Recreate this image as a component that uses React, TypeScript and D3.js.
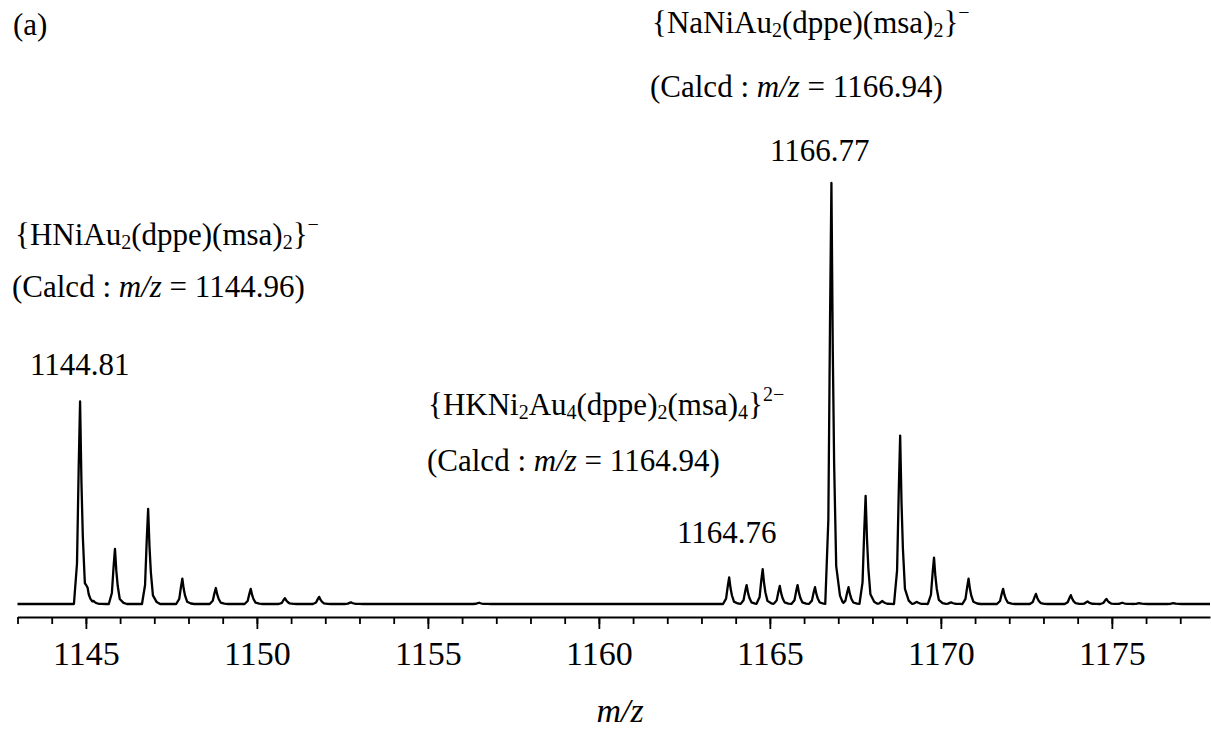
import { useEffect, useRef } from "react";
import * as d3 from "d3";

const W = 1211;
const H = 733;

// Peak list (m/z, relative intensity %)
const PEAK_MZ = [
  1144.83, 1145.05, 1145.22, 1145.85, 1146.82, 1147.82, 1148.8, 1149.82,
  1150.82, 1151.82, 1152.75, 1156.5, 1163.81, 1164.32, 1164.79, 1165.29,
  1165.81, 1166.32, 1166.8, 1167.3, 1167.8, 1168.29, 1168.81, 1169.3,
  1169.8, 1170.3, 1170.81, 1171.82, 1172.78, 1173.8, 1174.29, 1174.84,
  1175.31, 1175.8, 1176.8,
];
const PEAK_INT = [
  48.1, 2.0, 0.6, 13.1, 22.6, 6.0, 3.8, 3.6, 1.4, 1.7, 0.4, 0.3, 6.3, 4.5,
  8.3, 4.3, 4.5, 4.0, 100, 4.0, 25.7, 0.7, 40.0, 0.5, 11.0, 0.4, 6.0, 3.6,
  2.4, 2.1, 0.6, 1.2, 0.3, 0.2, 0.2,
];

// Instrument line shape (offset in m/z -> fraction of peak height)
const SHAPE_DX = [-0.18, -0.09, -0.04, 0, 0.04, 0.08, 0.14, 0.25, 0.35];
const SHAPE_F = [0, 0.2, 0.68, 1, 0.6, 0.33, 0.09, 0.02, 0];

const X_DOMAIN: [number, number] = [1143, 1177.87];
const MAJOR_TICKS = [1145, 1150, 1155, 1160, 1165, 1170, 1175];
const MINOR_TICKS = d3.range(1143, 1178, 1);

const SERIF = "Liberation Serif, Times New Roman, serif";
const FS = 31;

type Seg = { t: string; sub?: boolean; sup?: boolean; it?: boolean };

const LABELS: { x: number; y: number; segs: Seg[] }[] = [
  { x: 13, y: 35, segs: [{ t: "(a)" }] },
  {
    x: 15,
    y: 245,
    segs: [
      { t: "{HNiAu" },
      { t: "2", sub: true },
      { t: "(dppe)(msa)" },
      { t: "2", sub: true },
      { t: "}" },
      { t: "\u2212", sup: true },
    ],
  },
  {
    x: 12,
    y: 297,
    segs: [{ t: "(Calcd : " }, { t: "m/z", it: true }, { t: " = 1144.96)" }],
  },
  { x: 30, y: 375, segs: [{ t: "1144.81" }] },
  {
    x: 428,
    y: 415,
    segs: [
      { t: "{HKNi" },
      { t: "2", sub: true },
      { t: "Au" },
      { t: "4", sub: true },
      { t: "(dppe)" },
      { t: "2", sub: true },
      { t: "(msa)" },
      { t: "4", sub: true },
      { t: "}" },
      { t: "2\u2212", sup: true },
    ],
  },
  {
    x: 427,
    y: 471,
    segs: [{ t: "(Calcd : " }, { t: "m/z", it: true }, { t: " = 1164.94)" }],
  },
  { x: 677, y: 543, segs: [{ t: "1164.76" }] },
  {
    x: 652,
    y: 33,
    segs: [
      { t: "{NaNiAu" },
      { t: "2", sub: true },
      { t: "(dppe)(msa)" },
      { t: "2", sub: true },
      { t: "}" },
      { t: "\u2212", sup: true },
    ],
  },
  {
    x: 650,
    y: 97,
    segs: [{ t: "(Calcd : " }, { t: "m/z", it: true }, { t: " = 1166.94)" }],
  },
  { x: 770, y: 161, segs: [{ t: "1166.77" }] },
];

export default function App() {
  const ref = useRef<SVGSVGElement | null>(null);

  useEffect(() => {
    if (!ref.current) return;
    const svg = d3.select(ref.current);
    svg.selectAll("*").remove();

    const x = d3.scaleLinear().domain(X_DOMAIN).range([17.5, 1210]);
    const y = d3.scaleLinear().domain([0, 100]).range([604, 183]);
    const axisY = 617;

    // profile = sum of line shapes at each peak
    const shape = d3.scaleLinear().domain(SHAPE_DX).range(SHAPE_F).clamp(true);
    const xs: number[] = [X_DOMAIN[0], X_DOMAIN[1]];
    PEAK_MZ.forEach((c) => SHAPE_DX.forEach((dx) => xs.push(c + dx)));
    xs.sort((a, b) => a - b);
    const profile: [number, number][] = xs
      .filter((v) => v >= X_DOMAIN[0] && v <= X_DOMAIN[1])
      .map((m) => [
        m,
        d3.sum(PEAK_MZ, (c, i) =>
          Math.abs(m - c) < 0.4 ? PEAK_INT[i] * shape(m - c) : 0
        ),
      ]);

    const line = d3
      .line<[number, number]>()
      .x((d) => x(d[0]))
      .y((d) => y(d[1]));

    svg
      .append("path")
      .attr("d", line(profile) ?? "")
      .attr("fill", "none")
      .attr("stroke", "#000")
      .attr("stroke-width", 2.3)
      .attr("stroke-linejoin", "round");

    // minor ticks
    const minor = svg
      .append("g")
      .attr("transform", `translate(0,${axisY})`)
      .call(
        d3
          .axisBottom(x)
          .tickValues(MINOR_TICKS)
          .tickSize(7)
          .tickSizeOuter(0)
          .tickFormat(() => "")
      );
    minor.select(".domain").attr("stroke-width", 2.2);
    minor.selectAll(".tick line").attr("stroke-width", 1.8);

    // major ticks + labels
    const major = svg
      .append("g")
      .attr("transform", `translate(0,${axisY})`)
      .style("font-family", SERIF)
      .call(
        d3
          .axisBottom(x)
          .tickValues(MAJOR_TICKS)
          .tickSize(12)
          .tickSizeOuter(0)
          .tickPadding(12)
          .tickFormat(d3.format("d"))
      );
    major.select(".domain").remove();
    major.selectAll(".tick line").attr("stroke-width", 1.8);
    major
      .selectAll(".tick text")
      .style("font-family", SERIF)
      .attr("font-size", 34)
      .attr("fill", "#000");

    // axis title
    svg
      .append("text")
      .attr("x", 620)
      .attr("y", 722)
      .attr("text-anchor", "middle")
      .style("font-family", SERIF)
      .attr("font-style", "italic")
      .attr("font-size", 34)
      .text("m/z");

    // annotations
    LABELS.forEach((lab) => {
      const t = svg
        .append("text")
        .attr("x", lab.x)
        .attr("y", lab.y)
        .style("font-family", SERIF)
        .attr("font-size", FS)
        .attr("fill", "#000");
      let shift = 0;
      lab.segs.forEach((s) => {
        const target = s.sub ? 4 : s.sup ? -14 : 0;
        const ts = t
          .append("tspan")
          .attr("dy", target - shift)
          .text(s.t);
        shift = target;
        if (s.sub || s.sup) ts.attr("font-size", 20);
        if (s.it) ts.attr("font-style", "italic");
      });
    });
  }, []);

  return (
    <svg
      ref={ref}
      width={W}
      height={H}
      style={{ position: "absolute", left: 0, top: 0, background: "#fff" }}
    />
  );
}
